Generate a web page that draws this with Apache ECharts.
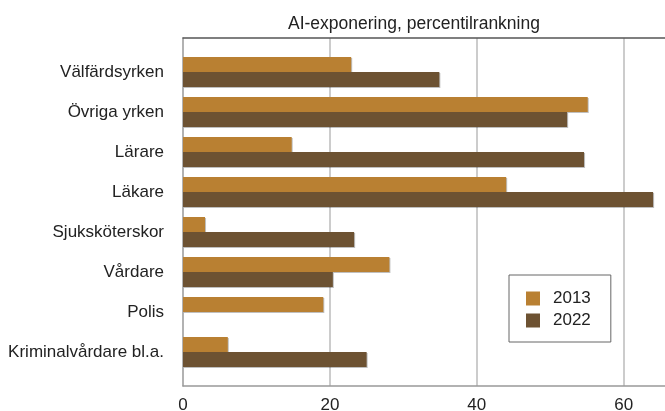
<!DOCTYPE html>
<html lang="sv">
<head>
    <meta charset="UTF-8">
    <title>AI-exponering</title>
    <script type="text/javascript" src="https://cdn.jsdelivr.net/npm/echarts@6/dist/echarts.min.js"></script>
    <style>
        body { margin: 0; background: #fff; }
    </style>
</head>
<body>
<div id="chartmain" style="width:665px;height:411px"></div>
<script>
    var yrken = ['Välfärdsyrken', 'Övriga yrken', 'Lärare', 'Läkare', 'Sjuksköterskor', 'Vårdare', 'Polis', 'Kriminalvårdare bl.a.'];
    var v2013 = [22.9, 55.1, 14.8, 44.0, 3.0, 28.1, 19.1, 6.1];
    var v2022 = [34.9, 52.3, 54.6, 64.0, 23.3, 20.4, null, 25.0];
    var xTicks = [0, 20, 40, 60];

    var font = 'Liberation Sans, Arial, sans-serif';
    var xMax = 66.3;

    var option = {
        animation: false,
        title: {
            text: 'AI-exponering, percentilrankning',
            left: 283,
            top: 10,
            textStyle: { fontFamily: font, fontSize: 17.5, fontWeight: 'normal', color: '#222' }
        },
        legend: {
            orient: 'vertical',
            left: 509,
            top: 275,
            data: ['2013', '2022'],
            icon: 'rect',
            itemWidth: 14,
            itemHeight: 14,
            itemGap: 5,
            padding: [15, 20, 13, 17],
            borderColor: '#666',
            borderWidth: 1,
            textStyle: { fontFamily: font, fontSize: 17, color: '#222', lineHeight: 14, padding: [0, 0, 0, 8] }
        },
        grid: [
            { left: 183, width: 487, top: 38, bottom: 25, containLabel: false, outerBoundsMode: 'none' },
            { left: 183, width: 487, top: 52, bottom: 39, containLabel: false, outerBoundsMode: 'none' }
        ],
        xAxis: [
            {
                gridIndex: 0, type: 'value', min: 0, max: xMax, interval: 20,
                axisLine: { show: true, lineStyle: { color: '#999', width: 1.5 } },
                axisTick: { show: false },
                splitLine: { show: true, lineStyle: { color: '#bbb', width: 1.5 } },
                axisLabel: {
                    fontFamily: font, fontSize: 17, color: '#222', margin: 11,
                    formatter: function (v) { return xTicks.indexOf(v) >= 0 ? v : ''; }
                }
            },
            {
                gridIndex: 0, type: 'value', position: 'top', min: 0, max: xMax,
                axisLine: { show: true, lineStyle: { color: '#555', width: 1.5 } },
                axisTick: { show: false }, axisLabel: { show: false }, splitLine: { show: false }
            },
            {
                gridIndex: 1, type: 'value', min: 0, max: xMax, show: false
            }
        ],
        yAxis: [
            {
                gridIndex: 0, type: 'value', show: true,
                axisLine: { show: true, lineStyle: { color: '#aaa', width: 1.5 } },
                axisTick: { show: false }, axisLabel: { show: false }, splitLine: { show: false }
            },
            {
                gridIndex: 1, type: 'category', data: yrken, inverse: true,
                axisLine: { show: false }, axisTick: { show: false },
                axisLabel: { fontFamily: font, fontSize: 17, color: '#222', margin: 19 }
            }
        ],
        series: [
            {
                name: '2013', type: 'bar', xAxisIndex: 2, yAxisIndex: 1,
                data: v2013, barWidth: 15, barGap: '0%',
                itemStyle: { color: '#B98032', shadowColor: 'rgba(0,0,0,0.25)', shadowOffsetX: 1, shadowOffsetY: 1 }
            },
            {
                name: '2022', type: 'bar', xAxisIndex: 2, yAxisIndex: 1,
                data: v2022, barWidth: 15, barGap: '0%',
                itemStyle: { color: '#6D5232', shadowColor: 'rgba(0,0,0,0.25)', shadowOffsetX: 1, shadowOffsetY: 1 }
            }
        ]
    };

    var myChart = echarts.init(document.getElementById('chartmain'));
    myChart.setOption(option);
</script>
</body>
</html>
